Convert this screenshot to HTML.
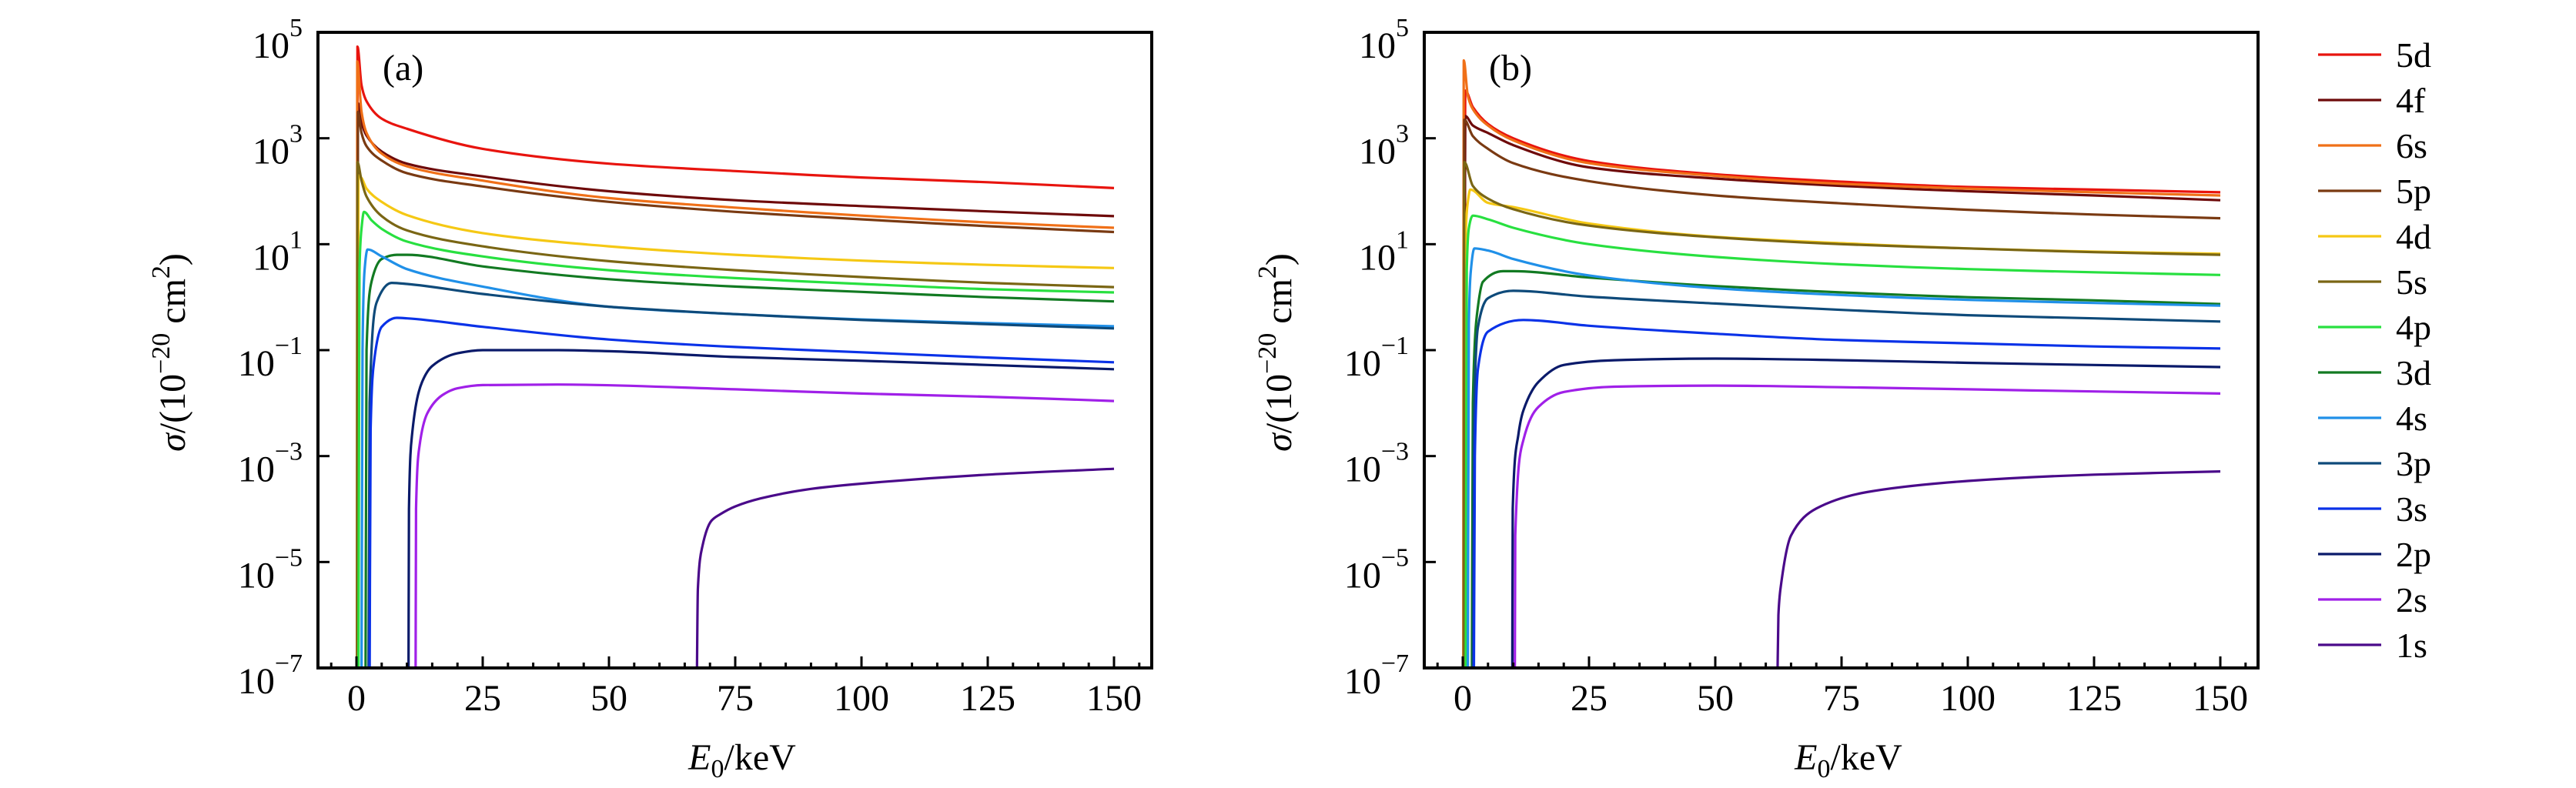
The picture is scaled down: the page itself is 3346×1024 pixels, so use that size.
<!DOCTYPE html>
<html><head><meta charset="utf-8"><style>
html,body{margin:0;padding:0;background:#fff;}
svg{display:block;font-family:"Liberation Serif",serif;}
</style></head><body>
<svg id="fig" width="3346" height="1024" viewBox="0 0 3346 1024" xmlns="http://www.w3.org/2000/svg"></svg>
<script>
const seriesNames = ["5d","4f","6s","5p","4d","5s","4p","3d","4s","3p","3s","2p","2s","1s"];
const seriesColors = ["#e8140e","#6e0a0a","#f07018","#7a3a12","#f5c814","#7a6614","#28e040","#127a22","#2090e8","#0e4a7a","#0a32e8","#0a1a6a","#a020e8","#4a0a8a"];
const xTicks = [0,25,50,75,100,125,150];
const yTickExps = [5,3,1,-1,-3,-5,-7];
// panel (a): [E0 keV, log10 sigma]
const a5d=[[0.15,-8],[0.2,4.73],[1,4.0],[2,3.7],[5,3.37],[10,3.18],[25,2.80],[50,2.52],[75,2.38],[100,2.26],[125,2.17],[150,2.06]];
const a4f=[[0.2,-8],[0.3,3.66],[1,3.3],[2,3.05],[5,2.75],[10,2.52],[25,2.28],[50,2.0],[75,1.83],[100,1.72],[125,1.62],[150,1.53]];
const a6s=[[0.1,-8],[0.15,4.45],[1,3.5],[2,3.1],[5,2.71],[10,2.47],[25,2.2],[50,1.87],[75,1.69],[100,1.54],[125,1.41],[150,1.31]];
const a5p=[[0.2,-8],[0.3,3.5],[1,3.1],[2,2.85],[5,2.58],[10,2.34],[25,2.09],[50,1.8],[75,1.61],[100,1.47],[125,1.34],[150,1.23]];
const a4d=[[0.3,-8],[0.4,2.3],[1,2.25],[2,2.05],[5,1.8],[10,1.55],[25,1.21],[50,0.96],[75,0.8],[100,0.69],[125,0.61],[150,0.55]];
const a5s=[[0.1,-8],[0.2,2.55],[1,2.2],[2,1.9],[5,1.53],[10,1.26],[25,0.96],[50,0.68],[75,0.51],[100,0.38],[125,0.27],[150,0.19]];
const a4p=[[0.4,-8],[0.6,0.5],[1,1.3],[1.5,1.61],[3,1.45],[5,1.29],[10,1.05],[25,0.77],[50,0.51],[75,0.36],[100,0.25],[125,0.15],[150,0.09]];
const a3d=[[1.8,-8],[2,-1],[3,0.3],[5,0.72],[8,0.8],[10,0.8],[25,0.58],[50,0.34],[75,0.2],[100,0.1],[125,0.0],[150,-0.08]];
const a4s=[[1,-8],[1.2,-1],[1.6,0.5],[2.2,0.9],[5,0.77],[10,0.53],[25,0.2],[50,-0.18],[75,-0.32],[100,-0.42],[125,-0.49],[150,-0.55]];
const a3p=[[2.4,-8],[2.6,-2],[4,-0.1],[7,0.27],[10,0.25],[25,0.06],[50,-0.18],[75,-0.32],[100,-0.43],[125,-0.51],[150,-0.59]];
const a3s=[[2.6,-8],[2.8,-2.5],[3.5,-1.2],[5,-0.56],[8,-0.39],[10,-0.4],[25,-0.56],[50,-0.8],[75,-0.94],[100,-1.04],[125,-1.14],[150,-1.23]];
const a2p=[[10.3,-8],[10.4,-4],[11,-2.6],[13,-1.6],[15,-1.3],[20,-1.06],[25,-1.0],[40,-1.0],[50,-1.02],[75,-1.13],[100,-1.2],[125,-1.28],[150,-1.36]];
const a2s=[[11.7,-8],[11.8,-4],[12.5,-2.8],[14,-2.2],[17,-1.85],[20,-1.72],[25,-1.66],[40,-1.65],[75,-1.74],[100,-1.82],[125,-1.88],[150,-1.96]];
const a1s=[[67.4,-8],[67.6,-5.5],[68.5,-4.7],[70.3,-4.22],[72,-4.1],[75,-3.95],[80,-3.8],[90,-3.62],[100,-3.52],[125,-3.35],[150,-3.24]];
// panel (b)
const b5d=[[0.3,-8],[0.5,3.9],[2,3.59],[5,3.27],[10,3.0],[25,2.57],[50,2.32],[75,2.18],[100,2.08],[125,2.03],[150,1.98]];
const b4f=[[0.3,-8],[0.5,3.42],[2,3.24],[5,3.1],[10,2.87],[25,2.45],[50,2.24],[75,2.1],[100,2.0],[125,1.92],[150,1.83]];
const b6s=[[0.1,-8],[0.2,4.47],[1,3.8],[2,3.55],[5,3.24],[10,2.96],[25,2.53],[50,2.29],[75,2.14],[100,2.05],[125,1.98],[150,1.92]];
const b5p=[[0.2,-8],[0.3,3.35],[2,3.04],[5,2.8],[10,2.53],[25,2.19],[50,1.92],[75,1.77],[100,1.65],[125,1.56],[150,1.49]];
const b4d=[[0.4,-8],[0.6,1.2],[1,1.8],[1.5,2.03],[5,1.78],[10,1.7],[25,1.39],[50,1.14],[75,1.02],[100,0.92],[125,0.86],[150,0.82]];
const b5s=[[0.2,-8],[0.3,2.55],[2,2.1],[5,1.86],[10,1.66],[25,1.35],[50,1.13],[75,1.0],[100,0.92],[125,0.85],[150,0.8]];
const b4p=[[0.6,-8],[0.8,0.5],[1.2,1.3],[2,1.54],[5,1.47],[10,1.31],[25,1.0],[50,0.76],[75,0.62],[100,0.53],[125,0.47],[150,0.42]];
const b3d=[[1.8,-8],[2,-2],[3,-0.18],[4,0.29],[8,0.49],[10,0.49],[25,0.37],[50,0.21],[75,0.09],[100,0.0],[125,-0.06],[150,-0.13]];
const b4s=[[1,-8],[1.2,-0.5],[1.6,0.5],[2.3,0.92],[5,0.88],[10,0.72],[25,0.41],[50,0.17],[75,0.04],[100,-0.05],[125,-0.11],[150,-0.16]];
const b3p=[[2,-8],[2.2,-2.5],[3,-0.57],[5,-0.02],[10,0.12],[25,0.01],[50,-0.12],[75,-0.24],[100,-0.34],[125,-0.4],[150,-0.46]];
const b3s=[[2.2,-8],[2.4,-3],[3,-1.36],[5,-0.65],[12,-0.43],[25,-0.54],[50,-0.69],[75,-0.81],[100,-0.87],[125,-0.93],[150,-0.97]];
const b2p=[[9.8,-8],[9.9,-4],[11,-2.6],[12,-2.14],[15,-1.6],[20,-1.28],[30,-1.19],[50,-1.16],[75,-1.19],[100,-1.24],[125,-1.28],[150,-1.32]];
const b2s=[[10.3,-8],[10.4,-4.5],[12,-2.7],[15,-2.07],[20,-1.79],[30,-1.69],[50,-1.67],[75,-1.7],[100,-1.74],[125,-1.78],[150,-1.82]];
const b1s=[[62.3,-8],[62.5,-6],[63,-5.44],[65,-4.5],[70,-3.99],[80,-3.68],[100,-3.47],[125,-3.35],[150,-3.29]];

const panelA=[a5d,a4f,a6s,a5p,a4d,a5s,a4p,a3d,a4s,a3p,a3s,a2p,a2s,a1s];
const panelB=[b5d,b4f,b6s,b5p,b4d,b5s,b4p,b3d,b4s,b3p,b3s,b2p,b2s,b1s];

const NS="http://www.w3.org/2000/svg";
const svg=document.getElementById('fig');
function mk(tag,attrs,parent){const e=document.createElementNS(NS,tag);for(const k in attrs)e.setAttribute(k,attrs[k]);(parent||svg).appendChild(e);return e;}

function monoPath(P){
  const n=P.length;
  if(n<2)return '';
  const d=[],m=new Array(n);
  for(let i=0;i<n-1;i++)d.push((P[i+1][1]-P[i][1])/(P[i+1][0]-P[i][0]));
  m[0]=d[0];m[n-1]=d[n-2];
  for(let i=1;i<n-1;i++){
    if(d[i-1]*d[i]<=0)m[i]=0;
    else{const h0=P[i][0]-P[i-1][0],h1=P[i+1][0]-P[i][0];const w1=2*h1+h0,w2=h1+2*h0;m[i]=(w1+w2)/(w1/d[i-1]+w2/d[i]);}
  }
  let s='M'+P[0][0].toFixed(1)+','+P[0][1].toFixed(1);
  for(let i=0;i<n-1;i++){
    const h=(P[i+1][0]-P[i][0])/3;
    s+=' C'+(P[i][0]+h).toFixed(1)+','+(P[i][1]+m[i]*h).toFixed(1)+' '+(P[i+1][0]-h).toFixed(1)+','+(P[i+1][1]-m[i+1]*h).toFixed(1)+' '+P[i+1][0].toFixed(1)+','+P[i+1][1].toFixed(1);
  }
  return s;
}

const L=413,R=1496,T=42,B=868,X0=463,PXU=6.56,DEC=(B-T)/12;
function drawPanel(off,data,tag){
  const g=mk('g',{});
  
  
  const xs=v=>X0+off+v*PXU;
  const ys=v=>T+(5-v)*DEC;
  const cp=mk('clipPath',{id:'clip'+tag},g);
  mk('rect',{x:L+off,y:T,width:R-L,height:B-T},cp);
  const lines=mk('g',{'clip-path':'url(#clip'+tag+')'},g);
  
  
  data.forEach((s,i)=>{
    const pts=s.map(d=>[xs(d[0]),ys(Math.max(d[1],-7.3))]);
    const p=mk('path',{d:monoPath(pts),fill:'none',stroke:seriesColors[i],'stroke-width':3.2,'stroke-linejoin':'round'},lines);
    
    
  });
  const frame=mk('rect',{x:L+off,y:T,width:R-L,height:B-T,fill:'none',stroke:'#000','stroke-width':4},g);
  
  
  for(let v=-5;v<=155;v+=5){
    const major=xTicks.includes(v);
    mk('line',{x1:xs(v),x2:xs(v),y1:B,y2:B-(major?15:7),stroke:'#000','stroke-width':3},g);
  }
  xTicks.forEach(v=>{
    const t=mk('text',{x:xs(v),y:923,'font-size':48,'text-anchor':'middle'},g);
    t.textContent=v;
    
    
  });
  yTickExps.forEach(e=>{
    const y=ys(e);
    mk('line',{x1:L+off,x2:L+off+15,y1:y,y2:y,stroke:'#000','stroke-width':3},g);
    const t=mk('text',{x:L+off-20,y:y+33,'font-size':48,'text-anchor':'end'},g);
    
    
    const a=mk('tspan',{},t);a.textContent='10';
    const b=mk('tspan',{dy:-28,'font-size':34},t);b.textContent=(e<0?'\u2212':'')+Math.abs(e);
  });
  const yt=mk('text',{x:0,y:0,'font-size':48,'text-anchor':'middle',transform:'translate('+(240+off)+',458) rotate(-90)'},g);
  
  
  yt.innerHTML='<tspan font-style="italic">σ</tspan>/(10<tspan dy="-20" font-size="34">−20</tspan><tspan dy="20"> cm</tspan><tspan dy="-20" font-size="34">2</tspan><tspan dy="20">)</tspan>';
  const xt=mk('text',{x:964+off,y:1000,'font-size':48,'text-anchor':'middle'},g);
  
  
  xt.innerHTML='<tspan font-style="italic">E</tspan><tspan dy="10" font-size="34">0</tspan><tspan dy="-10">/keV</tspan>';
  const pl=mk('text',{x:497+off,y:104,'font-size':48},g);
  pl.textContent='('+tag+')';
  
  
}
drawPanel(0,panelA,'a');
drawPanel(1437,panelB,'b');

const lg=mk('g',{});


seriesNames.forEach((n,i)=>{
  const y=71+59*i;
  const e=mk('g',{},lg);
  
  
  mk('line',{x1:3011,x2:3093,y1:y,y2:y,stroke:seriesColors[i],'stroke-width':3.2},e);
  const t=mk('text',{x:3112,y:y+16,'font-size':46},e);
  t.textContent=n;
});
</script>
</body></html>
